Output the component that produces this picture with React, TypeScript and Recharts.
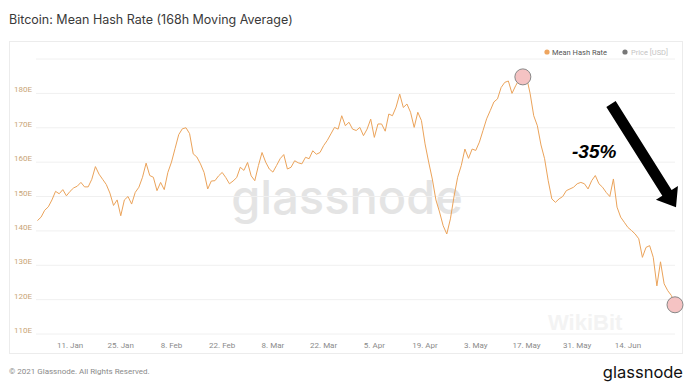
import { LineChart, Line, XAxis, YAxis, CartesianGrid, ReferenceDot } from 'recharts';

// mean hash rate (EH/s), one value per day from 2 Jan 2021
const hashRate = [
  143.0, 144.0, 146.0, 147.0, 149.0, 151.5, 150.8, 152.0, 150.2, 151.5,
  152.5, 153.0, 154.1, 152.8, 152.8, 155.0, 158.7, 156.5, 155.0, 153.5,
  151.0, 147.4, 149.0, 144.4, 149.0, 150.0, 147.8, 151.2, 152.7, 155.6,
  159.7, 156.1, 155.6, 151.7, 154.1, 152.0, 157.0, 160.0, 164.0, 168.0,
  169.7, 170.0, 168.3, 162.4, 161.5, 159.5, 157.0, 152.2, 154.5, 154.6,
  156.0, 157.0, 155.5, 153.7, 154.5, 155.5, 158.5, 157.6, 159.9, 156.0,
  154.6, 159.0, 162.8, 160.0, 158.0, 157.1, 159.0, 161.0, 162.2, 158.0,
  158.5, 160.4, 159.8, 159.5, 161.4, 161.0, 163.3, 162.3, 162.8, 164.8,
  166.3, 168.2, 170.1, 169.6, 173.5, 170.6, 171.6, 169.6, 169.2, 170.1,
  167.7, 169.6, 172.5, 167.2, 171.1, 171.1, 169.0, 174.0, 173.5, 176.0,
  179.8, 175.9, 176.9, 174.5, 170.1, 174.5, 172.1, 165.3, 160.0, 155.1,
  149.0, 145.5, 141.5, 139.1, 143.5, 150.0, 155.6, 159.0, 163.8, 161.1,
  163.8, 163.4, 165.8, 169.2, 172.6, 175.0, 177.5, 178.4, 181.7, 183.2,
  183.6, 180.0, 182.2, 184.1, 182.7, 184.8, 180.0, 173.5, 170.6, 165.0,
  161.0, 154.6, 149.3, 148.3, 149.3, 150.0, 151.7, 152.2, 152.7, 153.7,
  154.1, 153.7, 152.2, 154.6, 156.1, 153.7, 152.7, 151.2, 150.0, 155.1,
  146.9, 144.0, 142.5, 141.0, 140.1, 139.1, 137.7, 132.3, 135.2, 135.7,
  132.3, 124.0, 131.0, 124.6, 122.6, 121.2, 118.5,
];

// day of year (1 Jan = 0) for the date ticks
const tickDays = [10, 24, 38, 52, 66, 80, 94, 108, 122, 136, 150, 164];
const tickLabels = ['11. Jan', '25. Jan', '8. Feb', '22. Feb', '8. Mar', '22. Mar', '5. Apr', '19. Apr', '3. May', '17. May', '31. May', '14. Jun'];
const yTicks = [110, 120, 130, 140, 150, 160, 170, 180, 190];

const peakDay = 135;
const peakValue = 184.8;
const lastDay = hashRate.length;
const lastValue = hashRate[hashRate.length - 1];

const data = hashRate.map((v, i) => ({ day: i + 1, value: v }));

const FONT = 'Roboto, "Noto Sans", sans-serif';

function YTick(props: any) {
  const { x, y, payload } = props;
  if (payload.value === 190) return null;
  return (
    <text x={x - 4} y={y - 1} textAnchor="end" fontSize={8} fill="#c9a577" fontFamily={FONT}>
      {payload.value}E
    </text>
  );
}

function XTick(props: any) {
  const { x, y, payload } = props;
  const idx = tickDays.indexOf(payload.value);
  return (
    <text x={x} y={y + 14} textAnchor="middle" fontSize={8} fill="#8a8a8a" fontFamily={FONT}>
      {tickLabels[idx]}
    </text>
  );
}

function Arrow() {
  const len = 105;
  return (
    <g transform="translate(611,104) rotate(57.8)">
      <polygon
        points={`0,-5.5 ${len},-5.5 ${len},-13 ${len + 17},0 ${len},13 ${len},5.5 0,5.5`}
        fill="#000"
      />
    </g>
  );
}

export default function App() {
  return (
    <div style={{ position: 'absolute', left: 0, top: 0, width: 691, height: 387, background: '#fff' }}>
      <svg width={691} height={387} style={{ position: 'absolute', left: 0, top: 0 }}>
        <text x={9} y={24} fontSize={12.5} fill="#3a3a3a" fontFamily="Inter, sans-serif">
          Bitcoin: Mean Hash Rate (168h Moving Average)
        </text>
        <rect x={9.5} y={41.5} width={673} height={312} fill="none" stroke="#ececec" />
        <text x={347} y={214} textAnchor="middle" fontSize={47} fill="#e4e4e4" fontFamily="Inter, sans-serif" fontWeight={500}>
          glassnode
        </text>
        <circle cx={547} cy={52} r={2.6} fill="#eea55f" />
        <text x={552} y={55} fontSize={7.5} fill="#555" fontFamily={FONT}>Mean Hash Rate</text>
        <circle cx={625} cy={52} r={2.6} fill="#777" />
        <text x={631} y={55} fontSize={7.5} fill="#c4c4c4" fontFamily={FONT}>Price [USD]</text>
        <text x={9} y={374} fontSize={8} fill="#8a8a8a" fontFamily={FONT}>
          © 2021 Glassnode. All Rights Reserved.
        </text>
        <text x={683} y={378} textAnchor="end" fontSize={16.5} fill="#111" fontFamily="Inter, sans-serif">
          glassnode
        </text>
        <text x={548} y={330} fontSize={22} fontWeight="bold" fill="#f3f3f3" fontFamily='"Liberation Sans", Arial, sans-serif'>
          WikiBit
        </text>
      </svg>
      <div style={{ position: 'absolute', left: 0, top: 0 }}>
        <LineChart width={691} height={387} data={data} margin={{ top: 59, right: 16, bottom: 33, left: 8 }}>
          <CartesianGrid horizontal vertical={false} stroke="#f0f0f0" />
          <XAxis
            dataKey="day"
            type="number"
            domain={[0.6, 177]}
            ticks={tickDays}
            tick={<XTick />}
            tickLine={false}
            axisLine={false}
            tickSize={0}
            tickMargin={0}
            height={20}
          />
          <YAxis
            type="number"
            domain={[110, 190]}
            ticks={yTicks}
            tick={<YTick />}
            tickLine={false}
            axisLine={false}
            tickSize={0}
            tickMargin={0}
            width={28}
            interval={0}
          />
          <Line
            type="linear"
            dataKey="value"
            stroke="#eba35a"
            strokeWidth={1}
            dot={false}
            isAnimationActive={false}
          />
          <ReferenceDot x={peakDay} y={peakValue} r={8} fill="#f5c3c3" stroke="#888" strokeWidth={1} />
          <ReferenceDot x={lastDay} y={lastValue} r={8} fill="#f5c3c3" stroke="#888" strokeWidth={1} />
        </LineChart>
      </div>
      <svg width={691} height={387} style={{ position: 'absolute', left: 0, top: 0, pointerEvents: 'none' }}>
        <Arrow />
        <text x={572} y={158} fontSize={19} fontWeight="bold" fontStyle="italic" fill="#000" fontFamily='"Liberation Sans", Arial, sans-serif'>
          -35%
        </text>
      </svg>
    </div>
  );
}
